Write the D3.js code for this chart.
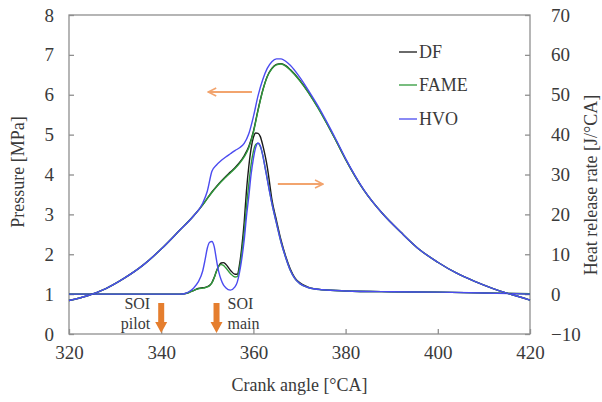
<!DOCTYPE html>
<html>
<head>
<meta charset="utf-8">
<script src="https://cdn.jsdelivr.net/npm/d3@7"></script>
<style>
  body { margin: 0; background: #fff; }
  text { font-family: "Liberation Serif", "Times New Roman", serif; fill: #3a3a3a; }
</style>
</head>
<body>
<svg id="chart" width="602" height="402"></svg>
<script>

var series = ["DF", "FAME", "HVO"]
var colors = ["#1a1a1a", "#2f9a3a", "#4b4bf0"]

// pressure [MPa] vs crank angle
var pAngle = [320, 324, 328, 332, 336, 340, 344, 347, 349, 350,
              351, 352, 353, 354, 355, 356, 357, 358, 359, 360,
              361, 362, 363, 364, 365, 366, 367, 368, 370, 372,
              374, 376, 378, 380, 384, 388, 392, 396, 400, 404,
              408, 412, 416, 420]

var pDF   = [0.84, 0.96, 1.14, 1.40, 1.72, 2.13, 2.60, 2.96, 3.24, 3.40,
             3.56, 3.70, 3.83, 3.95, 4.06, 4.17, 4.30, 4.47, 4.70, 5.08,
             5.62, 6.10, 6.46, 6.66, 6.76, 6.78, 6.73, 6.63, 6.37, 6.05,
             5.68, 5.27, 4.83, 4.38, 3.60, 3.02, 2.55, 2.12, 1.80, 1.53,
             1.32, 1.14, 0.99, 0.85]

var pFAME = [0.84, 0.96, 1.14, 1.40, 1.72, 2.13, 2.60, 2.96, 3.24, 3.40,
             3.55, 3.69, 3.82, 3.93, 4.04, 4.15, 4.28, 4.44, 4.67, 5.06,
             5.60, 6.09, 6.45, 6.65, 6.75, 6.77, 6.72, 6.62, 6.36, 6.04,
             5.67, 5.26, 4.83, 4.38, 3.60, 3.02, 2.55, 2.12, 1.80, 1.53,
             1.32, 1.14, 0.99, 0.85]

var pHVO  = [0.84, 0.96, 1.14, 1.40, 1.72, 2.13, 2.60, 2.96, 3.28, 3.58,
             4.08, 4.24, 4.35, 4.44, 4.52, 4.60, 4.67, 4.78, 5.02, 5.45,
             5.97, 6.37, 6.66, 6.83, 6.90, 6.90, 6.84, 6.74, 6.45, 6.10,
             5.72, 5.30, 4.86, 4.40, 3.61, 3.02, 2.55, 2.12, 1.80, 1.53,
             1.32, 1.14, 0.99, 0.85]

// heat release rate [J/°CA] vs crank angle
var hAngle = [320, 330, 340, 344, 345, 346, 347, 348, 349, 349.5,
              350, 350.5, 351, 351.5, 352, 352.5, 353, 353.5, 354, 355,
              356, 356.5, 357, 357.5, 358, 358.5, 359, 359.5, 360, 360.5,
              361, 361.5, 362, 362.5, 363, 363.5, 364, 365, 366, 367,
              368, 369, 370, 372, 375, 380, 390, 400, 410, 420]

var hDF   = [0, 0, 0, 0, 0.1, 0.4, 0.9, 1.4, 1.6, 1.7,
             1.9, 2.2, 2.9, 4.2, 5.8, 7.1, 7.8, 7.9, 7.5, 6.0,
             5.0, 5.0, 7.5, 12.0, 18.0, 26.0, 32.0, 36.5, 39.3, 40.4,
             40.3, 39.5, 37.5, 35.0, 32.0, 28.0, 23.8, 18.5, 13.5, 9.5,
             6.3, 4.1, 2.9, 1.7, 1.1, 0.8, 0.6, 0.5, 0.3, 0.1]

var hFAME = [0, 0, 0, 0, 0.1, 0.4, 0.9, 1.3, 1.5, 1.6,
             1.8, 2.1, 2.8, 4.1, 5.8, 7.0, 7.4, 7.2, 6.6, 5.2,
             4.3, 4.4, 6.5, 10.5, 15.5, 22.0, 27.5, 32.5, 35.8, 37.5,
             37.8, 37.0, 35.0, 32.0, 29.0, 25.8, 22.8, 17.8, 13.0, 9.2,
             6.0, 3.9, 2.7, 1.6, 1.1, 0.8, 0.6, 0.5, 0.3, 0.1]

var hHVO  = [0, 0, 0, 0, 0.1, 0.6, 1.5, 3.0, 5.8, 8.5,
             11.5, 13.0, 13.2, 11.9, 8.5, 5.5, 3.6, 2.3, 1.6, 1.0,
             1.8, 3.0, 5.5, 9.0, 13.5, 19.5, 24.5, 30.0, 34.0, 36.8,
             37.9, 37.2, 35.0, 32.0, 28.8, 25.7, 22.8, 17.8, 13.0, 9.2,
             6.0, 3.9, 2.7, 1.6, 1.1, 0.8, 0.6, 0.5, 0.3, 0.0]

var xTicks = [320, 340, 360, 380, 400, 420]
var pTicks = [0, 1, 2, 3, 4, 5, 6, 7, 8]
var hTicks = [-10, 0, 10, 20, 30, 40, 50, 60, 70]

// start of injection
var soiAngle = [340, 352]
var soiLabel = [["SOI", "pilot"], ["SOI", "main"]]

var svg = d3.select("#chart")

var mLeft = 69, mRight = 530, mTop = 15, mBottom = 334

var x = d3.scaleLinear().domain([320, 420]).range([mLeft, mRight])
var yP = d3.scaleLinear().domain([0, 8]).range([mBottom, mTop])
var yH = d3.scaleLinear().domain([-10, 70]).range([mBottom, mTop])

var grey = "#8f8f8f"

// axes, ticks pointing inside
var gx = svg.append("g")
            .attr("transform", "translate(0," + mBottom + ")")
            .call(d3.axisBottom(x).tickValues(xTicks).tickSize(-5).tickPadding(12).tickSizeOuter(0))

var gl = svg.append("g")
            .attr("transform", "translate(" + mLeft + ",0)")
            .call(d3.axisLeft(yP).tickValues(pTicks).tickSize(-5).tickPadding(15).tickSizeOuter(0))

var gr = svg.append("g")
            .attr("transform", "translate(" + mRight + ",0)")
            .call(d3.axisRight(yH).tickValues(hTicks).tickSize(-5).tickPadding(21).tickSizeOuter(0))

gr.selectAll("text").attr("text-anchor", "start")

svg.selectAll(".domain").remove()
svg.selectAll(".tick line").attr("stroke", grey).attr("stroke-width", 1.3)
svg.selectAll(".tick text")
    .attr("font-family", "Liberation Serif")
    .attr("font-size", "19px")
    .attr("fill", "#3a3a3a")

svg.append("rect")
    .attr("x", mLeft)
    .attr("y", mTop)
    .attr("width", mRight - mLeft)
    .attr("height", mBottom - mTop)
    .attr("fill", "none")
    .attr("stroke", grey)
    .attr("stroke-width", 1.3)

// axis titles
svg.append("text")
    .attr("x", (mLeft + mRight) / 2)
    .attr("y", 391)
    .attr("text-anchor", "middle")
    .attr("font-size", "18px")
    .text("Crank angle [°CA]")

svg.append("text")
    .attr("transform", "translate(24,172) rotate(-90)")
    .attr("text-anchor", "middle")
    .attr("font-size", "18px")
    .text("Pressure [MPa]")

svg.append("text")
    .attr("transform", "translate(597,185) rotate(-90)")
    .attr("text-anchor", "middle")
    .attr("font-size", "18px")
    .text("Heat release rate [J/°CA]")

// curves
var pData = [pDF, pFAME, pHVO]
var hData = [hDF, hFAME, hHVO]

var pLine = d3.line()
              .x(function(d, i) { return x(pAngle[i]) })
              .y(function(d) { return yP(d) })
              .curve(d3.curveMonotoneX)

var hLine = d3.line()
              .x(function(d, i) { return x(hAngle[i]) })
              .y(function(d) { return yH(d) })
              .curve(d3.curveMonotoneX)

var lines = svg.append("g")

lines.selectAll(".hrr")
    .data(hData)
    .enter().append("path")
    .attr("class", "hrr")
    .attr("d", hLine)
    .attr("fill", "none")
    .attr("stroke", function(d, i) { return colors[i] })
    .attr("stroke-width", 1.4)

lines.selectAll(".pres")
    .data(pData)
    .enter().append("path")
    .attr("class", "pres")
    .attr("d", pLine)
    .attr("fill", "none")
    .attr("stroke", function(d, i) { return colors[i] })
    .attr("stroke-width", 1.4)

// legend
var legend = svg.append("g")
var legendY = [52, 85, 119]

series.forEach(function(s, i) {
    legend.append("line")
        .attr("x1", 399).attr("x2", 417)
        .attr("y1", legendY[i]).attr("y2", legendY[i])
        .attr("stroke", colors[i])
        .attr("stroke-width", 1.3)
    legend.append("text")
        .attr("x", 419)
        .attr("y", legendY[i] + 6)
        .attr("font-size", "18px")
        .attr("fill", "#2a2a2a")
        .text(s)
})

// arrows telling which axis the curves belong to
var light = "#f2a46e"

svg.append("defs").append("marker")
    .attr("id", "head")
    .attr("viewBox", "0 0 10 10")
    .attr("refX", 9).attr("refY", 5)
    .attr("markerWidth", 5).attr("markerHeight", 5)
    .attr("orient", "auto")
    .append("path")
    .attr("d", "M1,1 L9,5 L1,9")
    .attr("fill", "none")
    .attr("stroke", light)
    .attr("stroke-width", 1.6)

svg.append("line")
    .attr("x1", x(359.7)).attr("y1", yP(6.07))
    .attr("x2", x(350.2)).attr("y2", yP(6.07))
    .attr("stroke", light).attr("stroke-width", 2)
    .attr("marker-end", "url(#head)")

svg.append("line")
    .attr("x1", x(365.3)).attr("y1", yH(27.6))
    .attr("x2", x(375.1)).attr("y2", yH(27.6))
    .attr("stroke", light).attr("stroke-width", 2)
    .attr("marker-end", "url(#head)")

// SOI markers
var orange = "#e57e2e"

soiAngle.forEach(function(a, i) {
    var cx = x(a)
    svg.append("path")
        .attr("d", "M" + (cx - 3) + ",303 L" + (cx + 3) + ",303 L" + (cx + 3) + ",322 L" + (cx + 6) + ",322 L" + cx + ",333 L" + (cx - 6) + ",322 L" + (cx - 3) + ",322 Z")
        .attr("fill", orange)

    var t = svg.append("text")
        .attr("font-size", "16px")
        .attr("fill", orange)
        .attr("text-anchor", i == 0 ? "end" : "start")
    var tx = i == 0 ? cx - 11 : cx + 11
    t.append("tspan").attr("x", tx).attr("y", 309).text(soiLabel[i][0])
    t.append("tspan").attr("x", tx).attr("y", 329).text(soiLabel[i][1])
})

</script>
</body>
</html>
